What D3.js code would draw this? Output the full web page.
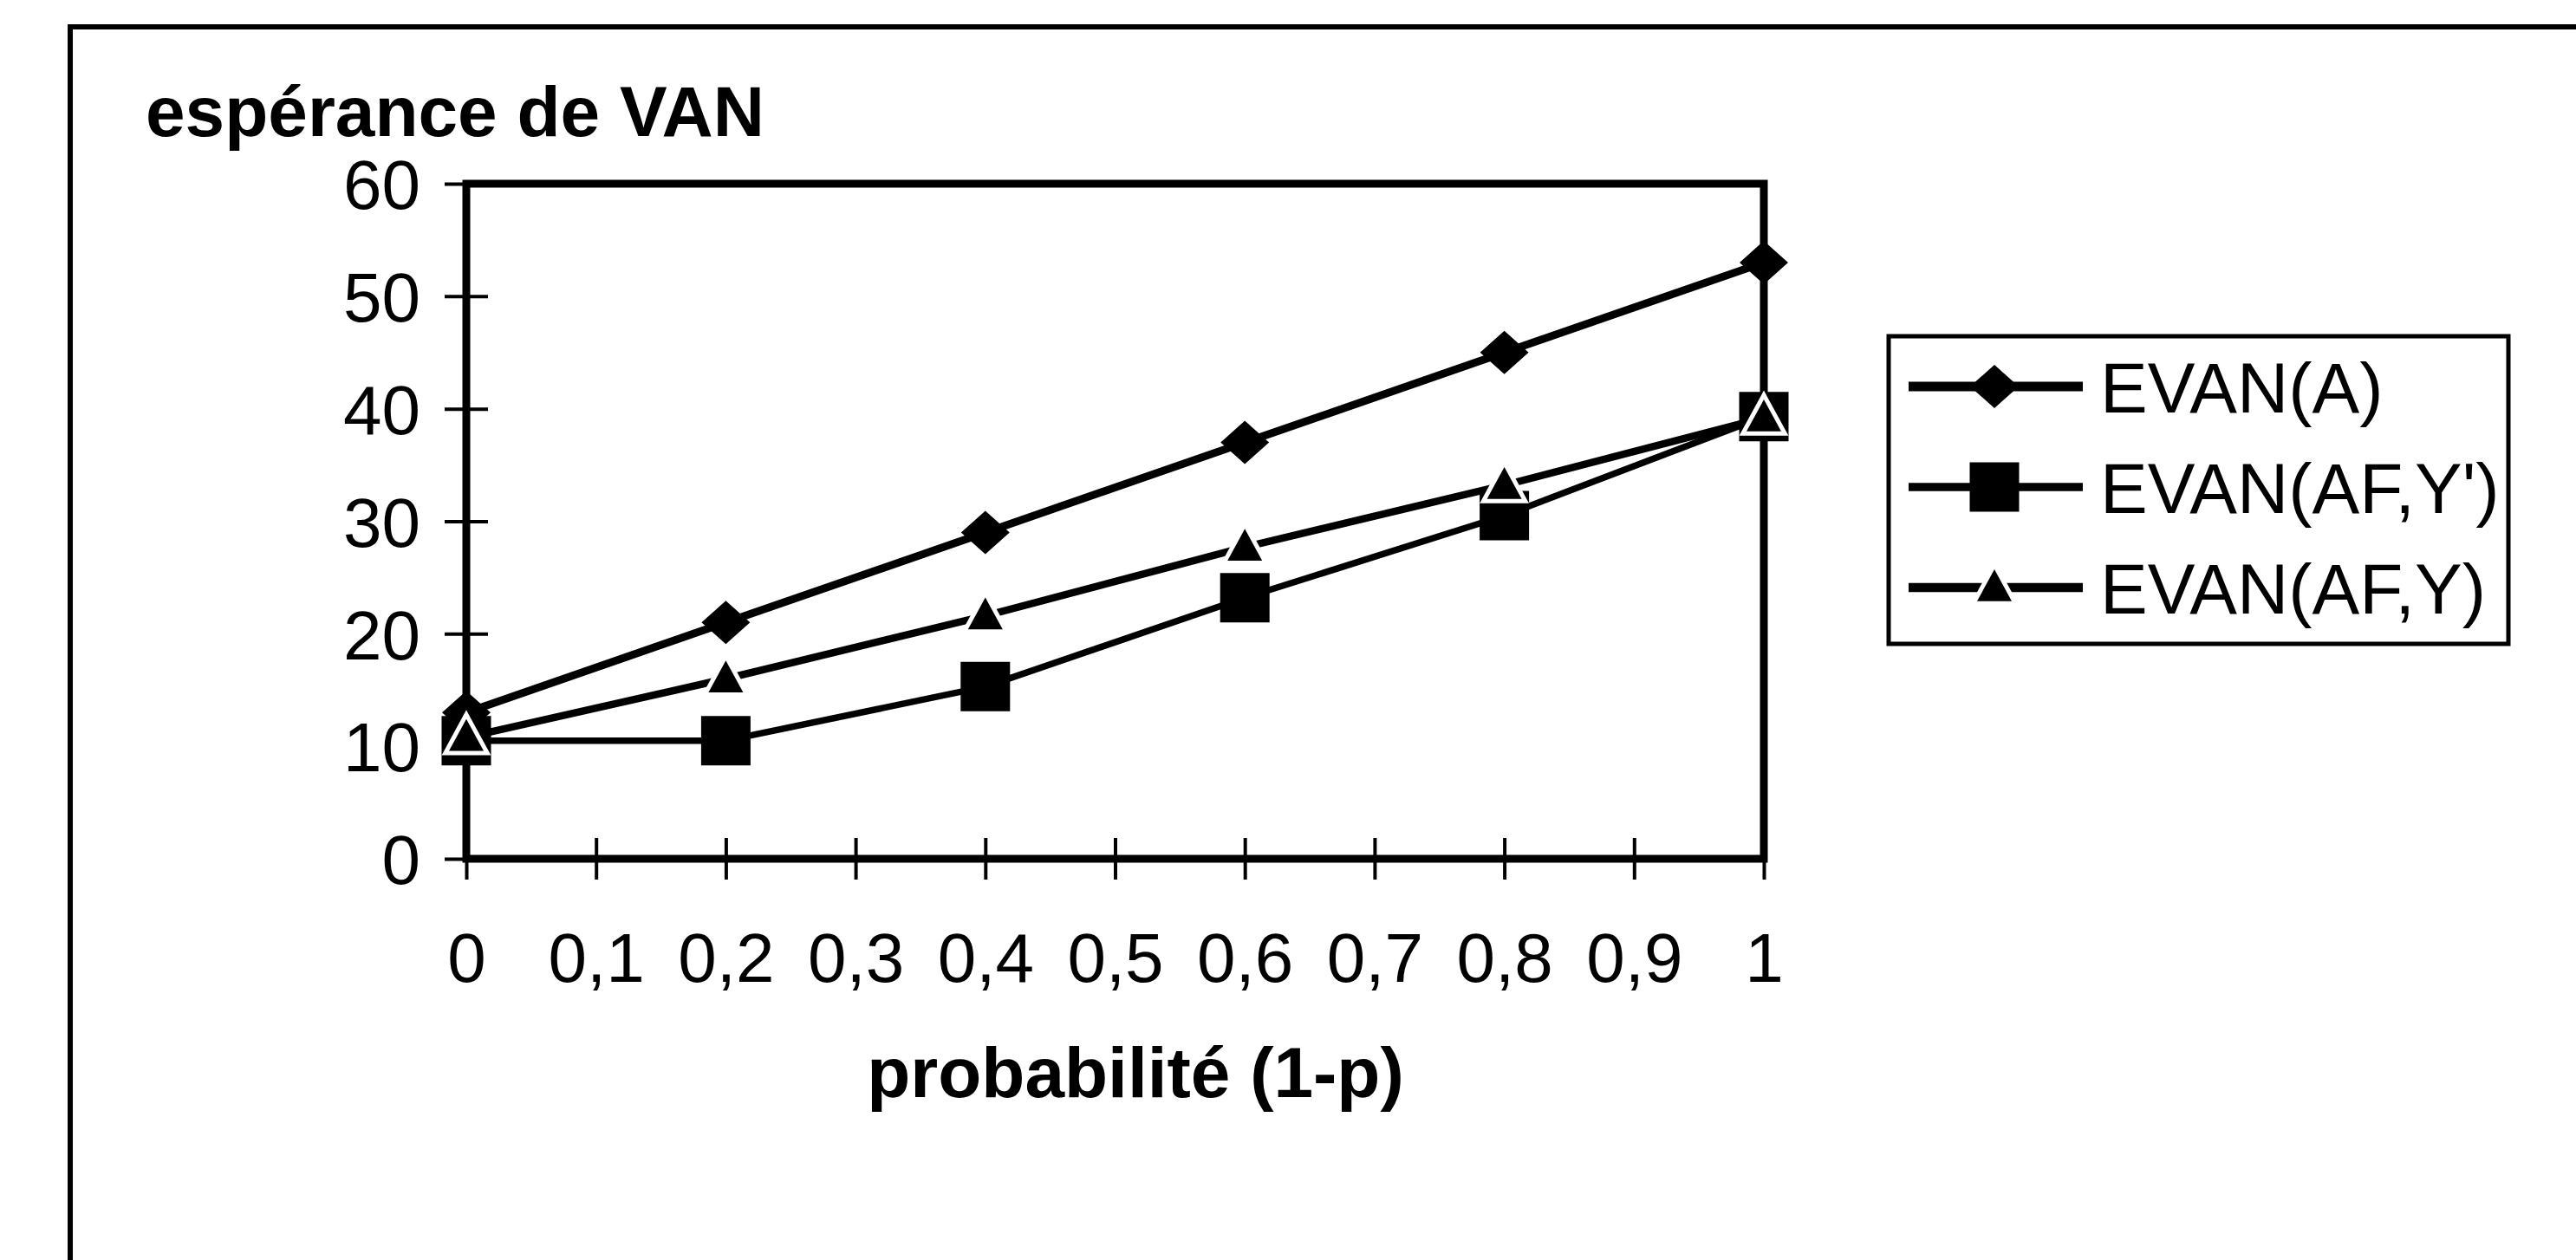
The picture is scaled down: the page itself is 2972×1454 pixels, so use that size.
<!DOCTYPE html>
<html>
<head>
<meta charset="utf-8">
<script src="https://cdn.jsdelivr.net/npm/d3@7/dist/d3.min.js"></script>
<style>
  html, body { margin: 0; padding: 0; background: #fff; }
  svg { display: block; }
  text { font-family: "Liberation Sans", Arial, Helvetica, sans-serif; fill: #000; }
</style>
</head>
<body>
<svg id="chart" width="2972" height="1454"></svg>
<script>
// ---------- data ----------
const probabilities = [0, 0.2, 0.4, 0.6, 0.8, 1];
const evanA      = [13, 21, 29, 37, 45, 53];
const evanAFYp   = [10.5, 10.5, 15.3, 23.2, 30.5, 39.3];
const evanAFY    = [10.8, 16.0, 21.6, 27.7, 33.2, 39.2];
const seriesNames = ["EVAN(A)", "EVAN(AF,Y')", "EVAN(AF,Y)"];
const xTickValues = [0, 0.1, 0.2, 0.3, 0.4, 0.5, 0.6, 0.7, 0.8, 0.9, 1];
const xTickLabels = ["0", "0,1", "0,2", "0,3", "0,4", "0,5", "0,6", "0,7", "0,8", "0,9", "1"];
const yTickValues = [0, 10, 20, 30, 40, 50, 60];
const yTitle = "espérance de VAN";
const xTitle = "probabilité (1-p)";

// ---------- layout ----------
const svg = d3.select("#chart");
const plot = { left: 538, right: 2035, top: 212, bottom: 991 };
const x = d3.scaleLinear().domain([0, 1]).range([plot.left, plot.right]);
const y = d3.scaleLinear().domain([0, 60]).range([plot.bottom, plot.top]);

// outer frame (extends past the picture on right & bottom)
svg.append("rect")
  .attr("x", 81).attr("y", 31).attr("width", 3100).attr("height", 1600)
  .attr("fill", "none").attr("stroke", "#000").attr("stroke-width", 6);

// y title
svg.append("text").attr("x", 168).attr("y", 157)
  .attr("font-size", 82).attr("font-weight", "bold").text(yTitle);

// plot box
svg.append("rect")
  .attr("x", plot.left).attr("y", plot.top)
  .attr("width", plot.right - plot.left).attr("height", plot.bottom - plot.top)
  .attr("fill", "none").attr("stroke", "#000").attr("stroke-width", 9);

// y axis
const yAxis = svg.append("g").attr("transform", `translate(${plot.left},0)`)
  .call(d3.axisLeft(y).tickValues(yTickValues).tickSize(25).tickPadding(28));
yAxis.select(".domain").remove();
yAxis.selectAll(".tick line").attr("x1", -25).attr("x2", 25).attr("stroke-width", 4);
yAxis.selectAll(".tick text").attr("font-size", 80).attr("dy", "0.36em")
  .attr("font-family", "Liberation Sans, Arial, sans-serif").attr("fill", "#000");

// x axis
const xAxis = svg.append("g").attr("transform", `translate(0,${plot.bottom})`)
  .call(d3.axisBottom(x).tickValues(xTickValues)
    .tickFormat((d, i) => xTickLabels[i]).tickSize(24).tickPadding(84));
xAxis.select(".domain").remove();
xAxis.selectAll(".tick line").attr("y1", -24).attr("y2", 24).attr("stroke-width", 4);
xAxis.selectAll(".tick text").attr("font-size", 80).attr("dy", "0")
  .attr("font-family", "Liberation Sans, Arial, sans-serif").attr("fill", "#000")
  .attr("y", 1133 - plot.bottom);

// x title
svg.append("text").attr("x", 1310).attr("y", 1266).attr("text-anchor", "middle")
  .attr("font-size", 82).attr("font-weight", "bold").text(xTitle);

// ---------- marker shapes ----------
const diamondType = { draw(ctx, size) { const w = 28, h = 25; ctx.moveTo(0, -h); ctx.lineTo(w, 0); ctx.lineTo(0, h); ctx.lineTo(-w, 0); ctx.closePath(); } };
const squareType = { draw(ctx, size) { const s = 28.5; ctx.rect(-s, -s, 2 * s, 2 * s); } };
const triangleType = { draw(ctx, size) { const h = 21, w = 20; ctx.moveTo(0, -h); ctx.lineTo(w, h * 0.75); ctx.lineTo(-w, h * 0.75); ctx.closePath(); } };

const series = [
  { name: seriesNames[0], values: evanA,    width: 9, type: diamondType,  stroke: null },
  { name: seriesNames[1], values: evanAFYp, width: 7.5, type: squareType, stroke: null },
  { name: seriesNames[2], values: evanAFY,  width: 8.5, type: triangleType, stroke: "#fff" }
];

const line = d3.line().x((d, i) => x(probabilities[i])).y(d => y(d));

series.forEach(s => {
  const g = svg.append("g");
  g.append("path").datum(s.values).attr("d", line)
    .attr("fill", "none").attr("stroke", "#000").attr("stroke-width", s.width)
    .attr("stroke-linejoin", "round");
  g.selectAll("path.m").data(s.values).join("path").attr("class", "m")
    .attr("transform", (d, i) => `translate(${x(probabilities[i])},${y(d)})`)
    .attr("d", d3.symbol().type(s.type))
    .attr("fill", "#000")
    .attr("stroke", s.stroke || "none").attr("stroke-width", s.stroke ? 10 : 0)
    .attr("paint-order", "stroke");
});

// ---------- legend ----------
const lg = { left: 2179, top: 388, right: 2894, bottom: 743 };
const legendRows = [446, 562, 678];
svg.append("clipPath").attr("id", "lgclip").append("rect")
  .attr("x", lg.left).attr("y", lg.top).attr("width", lg.right - lg.left - 2).attr("height", lg.bottom - lg.top);
const legend = svg.append("g");
const items = legend.append("g").attr("clip-path", "url(#lgclip)");
series.forEach((s, i) => {
  const cy = legendRows[i];
  items.append("line").attr("x1", 2202).attr("x2", 2403).attr("y1", cy).attr("y2", cy)
    .attr("stroke", "#000").attr("stroke-width", s.width + 2);
  items.append("path").attr("transform", `translate(2301,${cy})`)
    .attr("d", d3.symbol().type(s.type)).attr("fill", "#000")
    .attr("stroke", s.stroke || "none").attr("stroke-width", s.stroke ? 10 : 0)
    .attr("paint-order", "stroke");
  items.append("text").attr("x", 2423).attr("y", cy + 30)
    .attr("font-size", 82).text(s.name);
});
legend.append("rect").attr("x", lg.left).attr("y", lg.top)
  .attr("width", lg.right - lg.left).attr("height", lg.bottom - lg.top)
  .attr("fill", "none").attr("stroke", "#000").attr("stroke-width", 5);
</script>
</body>
</html>
